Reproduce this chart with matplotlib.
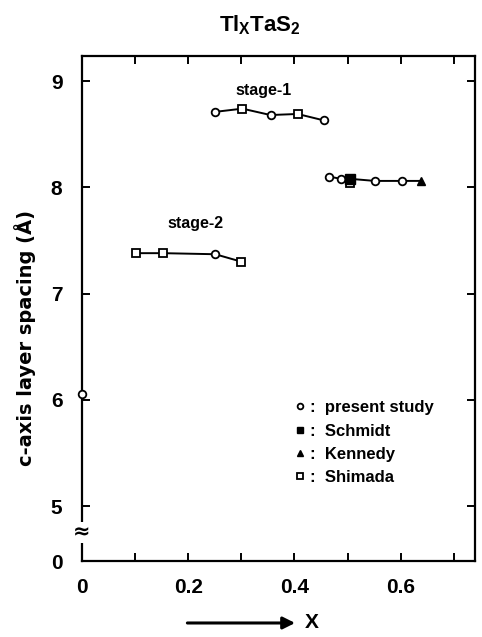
import matplotlib
matplotlib.use("Agg")
import matplotlib.pyplot as plt
from matplotlib.lines import Line2D

plt.rcParams['font.family'] = ['Liberation Sans', 'DejaVu Sans']
plt.rcParams['font.weight'] = 'bold'
plt.rcParams['mathtext.fontset'] = 'custom'
plt.rcParams['mathtext.rm'] = 'Liberation Sans:bold'
plt.rcParams['mathtext.it'] = 'Liberation Sans:bold'
plt.rcParams['mathtext.bf'] = 'Liberation Sans:bold'

# ---------------------------------------------------------------------------
# DATA
# ---------------------------------------------------------------------------
# P = present study, S = Schmidt, K = Kennedy, Sh = Shimada
stage1_hi_x = [0.251, 0.302, 0.355, 0.406, 0.455]
stage1_hi_y = [8.71, 8.74, 8.68, 8.69, 8.63]
stage1_hi_src = ['P', 'Sh', 'P', 'Sh', 'P']

stage1_lo_x = [0.466, 0.487, 0.504, 0.504, 0.551, 0.602, 0.638]
stage1_lo_y = [8.10, 8.08, 8.04, 8.08, 8.06, 8.06, 8.06]
stage1_lo_src = ['P', 'P', 'Sh', 'S', 'P', 'P', 'K']

stage2_x = [0.102, 0.153, 0.251, 0.300]
stage2_y = [7.38, 7.38, 7.37, 7.30]
stage2_src = ['Sh', 'Sh', 'P', 'Sh']

pure_x = [0.0]
pure_y = [6.05]
pure_src = ['P']

legend_labels = ['present study', 'Schmidt', 'Kennedy', 'Shimada']

STYLE = {
    'P':  dict(marker='o', ms=5.5, mfc='white', mec='black', mew=1.3),
    'S':  dict(marker='s', ms=6.5, mfc='black', mec='black', mew=1.0),
    'K':  dict(marker='^', ms=6.0, mfc='black', mec='black', mew=1.0),
    'Sh': dict(marker='s', ms=5.5, mfc='white', mec='black', mew=1.3),
}

Y_BOTTOM = 4.483   # bottom of broken axis, labelled "0"

# ---------------------------------------------------------------------------
# PLOT
# ---------------------------------------------------------------------------
fig = plt.figure(figsize=(4.82, 6.37), dpi=100)
ax = fig.add_axes([0.170, 0.1193, 0.8155, 0.7927])


def draw_group(xs, ys, srcs, line=True):
    if line:
        ax.plot(xs, ys, color='black', lw=1.4, zorder=2)
    for x, y, s in zip(xs, ys, srcs):
        ax.plot([x], [y], ls='none', zorder=3, clip_on=False, **STYLE[s])


draw_group(stage1_hi_x, stage1_hi_y, stage1_hi_src)
draw_group(stage1_lo_x, stage1_lo_y, stage1_lo_src)
draw_group(stage2_x, stage2_y, stage2_src)
draw_group(pure_x, pure_y, pure_src, line=False)

ax.text(0.342, 8.91, 'stage-1', ha='center', va='center', fontsize=11.5)
ax.text(0.213, 7.66, 'stage-2', ha='center', va='center', fontsize=11.5)

ax.set_xlim(0, 0.74)
ax.set_ylim(Y_BOTTOM, 9.235)

ax.set_xticks([0, 0.2, 0.4, 0.6], labels=['0', '0.2', '0.4', '0.6'])
ax.set_xticks([0.1, 0.3, 0.5, 0.7], minor=True)
ax.set_yticks([Y_BOTTOM, 5, 6, 7, 8, 9], labels=['0', '5', '6', '7', '8', '9'])

ax.tick_params(which='both', direction='in', top=True, right=True,
               length=6, width=1.4, labelsize=15)
ax.tick_params(axis='x', pad=12)
ax.tick_params(axis='y', pad=14)
for sp in ax.spines.values():
    sp.set_linewidth(1.6)

# axis break on left spine
ax.text(0, 4.75, '≈', ha='center', va='center', fontsize=15, rotation=0,
        family='DejaVu Sans', zorder=5, clip_on=False,
        bbox=dict(facecolor='white', edgecolor='none', pad=0.5))

# legend (smaller symbols than in the plot)
handles = []
for k in ['P', 'S', 'K', 'Sh']:
    st = dict(STYLE[k])
    st['ms'] = st['ms'] * 0.75
    handles.append(Line2D([], [], ls='none', **st))
ax.legend(handles, [':  ' + t for t in legend_labels], loc='upper left',
          bbox_to_anchor=(0.522, 0.335), frameon=False, borderpad=0,
          handlelength=0.6, handletextpad=0.3, labelspacing=0.5,
          prop=dict(size=12, weight='bold'))

fig.text(0.54, 0.961, r'$\mathrm{Tl_XTaS_2}$', ha='center', va='center',
         fontsize=16)
fig.text(0.052, 0.47, 'c-axis layer spacing (Å)', rotation=90,
         ha='center', va='center', fontsize=14, family='DejaVu Sans',
         fontweight='bold')

# x label: arrow followed by X
ax.annotate('', xy=(0.618, 0.022), xytext=(0.383, 0.022),
            xycoords='figure fraction',
            arrowprops=dict(arrowstyle='-|>', lw=2.2, color='black',
                            mutation_scale=18))
fig.text(0.647, 0.022, 'X', ha='center', va='center', fontsize=15)

fig.savefig('out.png', dpi=100)
